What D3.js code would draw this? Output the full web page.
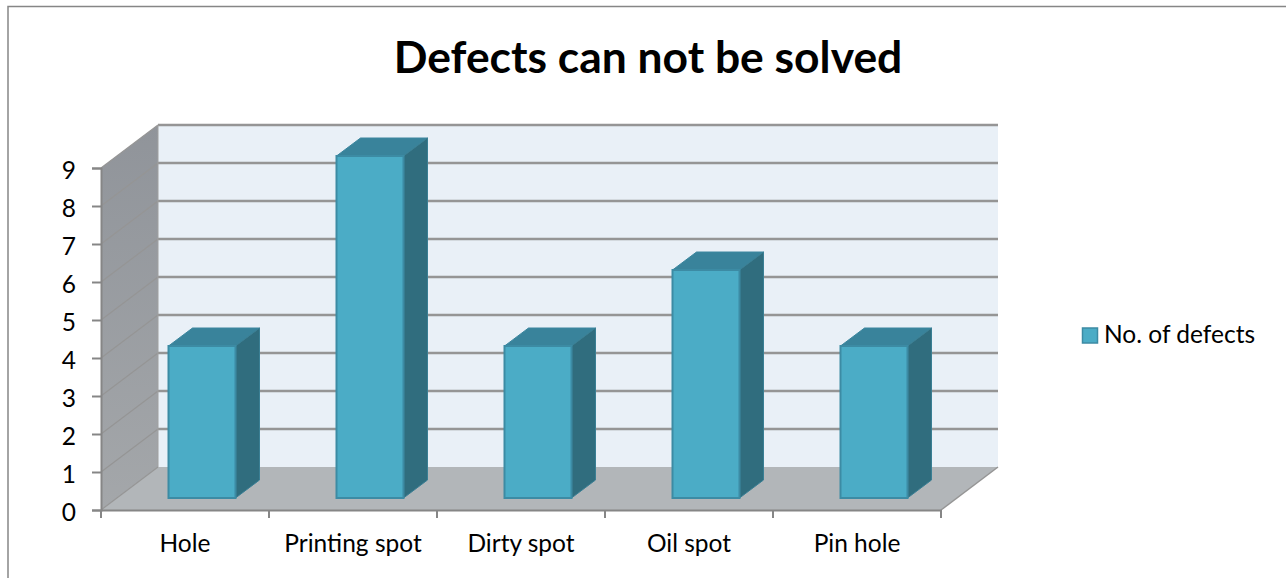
<!DOCTYPE html>
<html>
<head>
<meta charset="utf-8">
<script src="https://cdn.jsdelivr.net/npm/d3@7"></script>
<style>
body { margin: 0; background: #fff; }
text { font-family: Lato, sans-serif; fill: #000; }
</style>
</head>
<body>
<svg id="chart" width="1286" height="578"></svg>
<script>
// data
var categories = ["Hole", "Printing spot", "Dirty spot", "Oil spot", "Pin hole"];
var defects = [4, 9, 4, 6, 4];
var yTicks = [0, 1, 2, 3, 4, 5, 6, 7, 8, 9];
var chartTitle = "Defects can not be solved";
var seriesName = "No. of defects";

var svg = d3.select("#chart");

// scales for the front plane of the 3d box
var x = d3.scaleBand().domain(categories).range([101, 941]);
var y = d3.scaleLinear().domain([0, 9]).range([510, 168]);

// how far back the walls go, and the bars inside them
var depthX = 57, depthY = -43;
var barOffX = 17, barOffY = -12;
var barDepthX = 24, barDepthY = -18;
var barW = 67;

var axisCol = "#868686";
var gridCol = "#959595";

function pts(a) { return a.map(function (p) { return p.join(","); }).join(" "); }

// frame
svg.append("path")
    .attr("d", "M8,578V6.5H1286")
    .style("fill", "none")
    .style("stroke", "#868686")
    .style("stroke-width", 1.5);

// back wall
svg.append("rect")
    .attr("x", 101 + depthX)
    .attr("y", y(9) + depthY)
    .attr("width", 840)
    .attr("height", y(0) - y(9))
    .style("fill", "#e9f0f7");

// side wall
var sideGrad = svg.append("defs").append("linearGradient")
    .attr("id", "sideGrad").attr("x1", 0).attr("y1", 0).attr("x2", 0).attr("y2", 1);
sideGrad.append("stop").attr("offset", "0%").attr("stop-color", "#90949a");
sideGrad.append("stop").attr("offset", "100%").attr("stop-color", "#a4a7aa");
svg.append("polygon")
    .attr("points", pts([[101, y(9)], [101 + depthX, y(9) + depthY], [101 + depthX, y(0) + depthY], [101, y(0)]]))
    .style("fill", "url(#sideGrad)");

// floor
svg.append("polygon")
    .attr("points", pts([[101, y(0)], [101 + depthX, y(0) + depthY], [941 + depthX, y(0) + depthY], [941, y(0)]]))
    .style("fill", "#b2b6b9");

// gridlines on the walls
yTicks.forEach(function (t) {
    if (t > 0) {
        svg.append("line")
            .attr("x1", 101 + depthX).attr("y1", y(t) + depthY)
            .attr("x2", 941 + depthX).attr("y2", y(t) + depthY)
            .style("stroke", gridCol).style("stroke-width", 2.5);
    }
    svg.append("line")
        .attr("x1", 101).attr("y1", y(t))
        .attr("x2", 101 + depthX).attr("y2", y(t) + depthY)
        .style("stroke", gridCol).style("stroke-width", 1.2);
});
svg.append("line")
    .attr("x1", 101 + depthX).attr("y1", y(9) + depthY)
    .attr("x2", 101 + depthX).attr("y2", y(0) + depthY)
    .style("stroke", "#a0a0a0").style("stroke-width", 1);
svg.append("line")
    .attr("x1", 941).attr("y1", y(0))
    .attr("x2", 941 + depthX).attr("y2", y(0) + depthY)
    .style("stroke", gridCol).style("stroke-width", 1.5);

// bars
categories.forEach(function (c, i) {
    var left = x(c) + x.bandwidth() / 2 - barW / 2 + barOffX;
    var right = left + barW;
    var bottom = y(0) + barOffY;
    var top = y(defects[i]) + barOffY;

    svg.append("polygon")
        .attr("points", pts([[left, top], [left + barDepthX, top + barDepthY], [right + barDepthX, top + barDepthY], [right, top]]))
        .style("fill", "#39839b").style("stroke", "#3c879f").style("stroke-width", 1);
    svg.append("polygon")
        .attr("points", pts([[right, top], [right + barDepthX, top + barDepthY], [right + barDepthX, bottom + barDepthY], [right, bottom]]))
        .style("fill", "#306d7e").style("stroke", "#3a7f94").style("stroke-width", 1);
    svg.append("rect")
        .attr("x", left).attr("y", top)
        .attr("width", barW).attr("height", bottom - top)
        .style("fill", "#4bacc6").style("stroke", "#3c8ba4").style("stroke-width", 2);
});

// axes
var yAxis = d3.axisLeft(y).tickValues(yTicks).tickSize(9).tickPadding(16).tickFormat(d3.format("d"));
var gy = svg.append("g").attr("transform", "translate(101,0)").call(yAxis);
gy.selectAll("text").style("font-size", "24.5px").attr("dy", "0.42em");

var xAxis = d3.axisBottom(x).tickSize(0).tickPadding(25);
var gx = svg.append("g").attr("transform", "translate(0,510)").call(xAxis);
gx.selectAll("text").style("font-size", "24.5px");
// ticks sit between the categories
var edges = categories.map(function (c) { return x(c); }).concat([941]);
edges.forEach(function (e) {
    gx.append("line").attr("x1", e).attr("x2", e).attr("y1", 0).attr("y2", 8);
});
svg.selectAll(".domain, .tick line, g line").style("stroke", axisCol).style("stroke-width", 2);

// title
svg.append("text")
    .attr("x", 648).attr("y", 73)
    .attr("text-anchor", "middle")
    .text(chartTitle)
    .style("font-size", "44.4px")
    .style("font-weight", "bold");

// legend
svg.append("rect")
    .attr("x", 1082.5).attr("y", 328)
    .attr("width", 15).attr("height", 15)
    .style("fill", "#4bacc6").style("stroke", "#3c8ba4").style("stroke-width", 1.5);
svg.append("text")
    .attr("x", 1104).attr("y", 343)
    .text(seriesName)
    .style("font-size", "24.5px");
</script>
</body>
</html>
